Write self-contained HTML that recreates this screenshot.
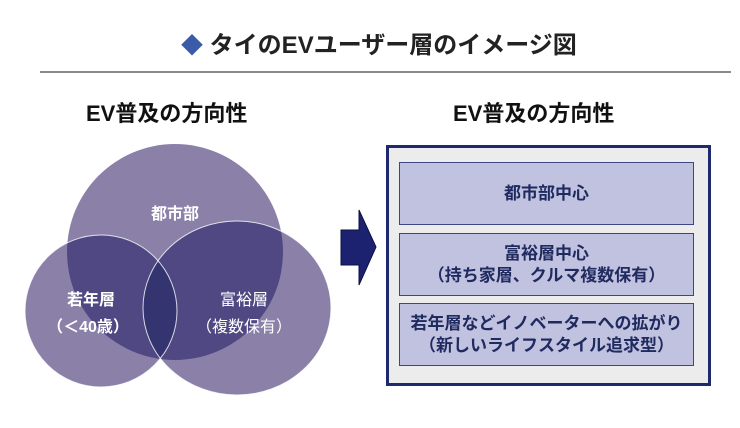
<!DOCTYPE html>
<html><head><meta charset="utf-8"><style>
body{margin:0;width:740px;height:428px;background:#fff;overflow:hidden;position:relative;font-family:"Liberation Sans","Noto Sans CJK JP",sans-serif;}
.t{position:absolute;white-space:nowrap;font-weight:bold;}
.box{position:absolute;left:399px;width:293px;background:#c1c1e0;border:1px solid #3d4585;color:#1f2a5e;font-weight:bold;font-size:17px;line-height:22px;text-align:center;display:flex;align-items:center;justify-content:center;flex-direction:column;}
</style></head><body>
<div class="t" style="left:181px;top:31px;font-size:24px;line-height:30px;color:#222;"><span style="color:#3a5ca8;font-size:22px;">◆</span> タイのEVユーザー層のイメージ図</div>
<div style="position:absolute;left:40px;top:71px;width:691px;height:2px;background:#8a8a8a;"></div>
<div class="t" style="left:86px;top:100px;font-size:22px;line-height:28px;color:#111;">EV普及の方向性</div>
<div class="t" style="left:453px;top:100px;font-size:22px;line-height:28px;color:#111;">EV普及の方向性</div>
<svg style="position:absolute;left:0;top:0" width="740" height="428">
<defs>
<clipPath id="cT"><circle cx="175" cy="252" r="108"/></clipPath>
<clipPath id="cL"><circle cx="101" cy="311" r="76"/></clipPath>
</defs>
<circle cx="175" cy="252" r="108" fill="#8a80a8"/>
<circle cx="101" cy="311" r="76" fill="#8a80a8"/>
<ellipse cx="237" cy="308" rx="94" ry="87" fill="#8a80a8"/>
<g clip-path="url(#cT)"><circle cx="101" cy="311" r="76" fill="#4f4882"/><ellipse cx="237" cy="308" rx="94" ry="87" fill="#4f4882"/></g>
<g clip-path="url(#cL)"><ellipse cx="237" cy="308" rx="94" ry="87" fill="#4f4882"/></g>
<g clip-path="url(#cT)"><g clip-path="url(#cL)"><ellipse cx="237" cy="308" rx="94" ry="87" fill="#343470"/></g></g>
<circle cx="101" cy="311" r="76" fill="none" stroke="#fff" stroke-width="1" opacity="0.8"/>
<ellipse cx="237" cy="308" rx="94" ry="87" fill="none" stroke="#fff" stroke-width="1" opacity="0.8"/>
<text x="175" y="219" fill="#fff" font-size="16" font-weight="bold" text-anchor="middle" font-family="Liberation Sans, Noto Sans CJK JP, sans-serif">都市部</text>
<text x="91" y="305" fill="#fff" font-size="16" font-weight="bold" text-anchor="middle" font-family="Liberation Sans, Noto Sans CJK JP, sans-serif">若年層</text>
<text x="88" y="332" fill="#fff" font-size="16" font-weight="bold" text-anchor="middle" font-family="Liberation Sans, Noto Sans CJK JP, sans-serif">（＜40歳）</text>
<text x="244" y="305" fill="#fff" font-size="16" text-anchor="middle" font-family="Liberation Sans, Noto Sans CJK JP, sans-serif">富裕層</text>
<text x="244" y="332" fill="#fff" font-size="16" text-anchor="middle" font-family="Liberation Sans, Noto Sans CJK JP, sans-serif">（複数保有）</text>
<polygon points="341,230 359,230 359,210 376,247 359,285 359,265 341,265" fill="#1c2270" stroke="#0c1040" stroke-width="1"/>
<rect x="387.5" y="146.5" width="322" height="238" fill="#ececec" stroke="#1f2a6e" stroke-width="3"/>
</svg>
<div class="box" style="top:162px;height:61px;">都市部中心</div>
<div class="box" style="top:233px;height:61px;">富裕層中心<br>（持ち家層、クルマ複数保有）</div>
<div class="box" style="top:303px;height:61px;">若年層などイノベーターへの拡がり<br>（新しいライフスタイル追求型）</div>
</body></html>
